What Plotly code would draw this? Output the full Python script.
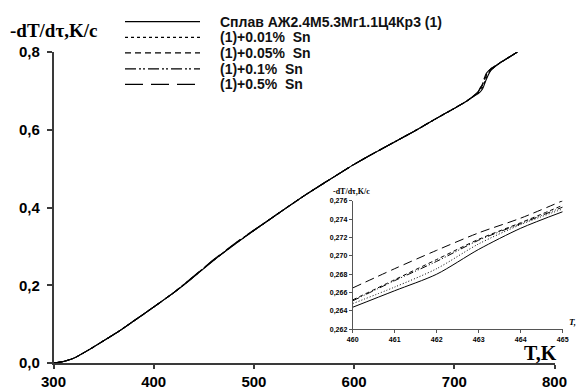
import plotly.graph_objects as go

# ---------------- data ----------------
series_names = [
    "Сплав АЖ2.4М5.3Мг1.1Ц4Кр3 (1)",
    "(1)+0.01%  Sn",
    "(1)+0.05%  Sn",
    "(1)+0.1%  Sn",
    "(1)+0.5%  Sn",
]

T_main = [300, 310, 320, 336, 350, 366, 380, 400, 420, 436, 460, 486, 500, 520,
          550, 572, 600, 632, 660, 680, 700, 712, 720, 724, 728, 732, 736, 745, 755, 763]

v_alloy = [0.000, 0.004, 0.012, 0.035, 0.057, 0.083, 0.108, 0.144, 0.181, 0.213, 0.2644, 0.315, 0.341, 0.377,
           0.430, 0.466, 0.511, 0.557, 0.596, 0.626, 0.655, 0.673, 0.687, 0.693, 0.704, 0.730, 0.751, 0.771, 0.787, 0.800]
v_sn001 = [0.000, 0.004, 0.012, 0.035, 0.057, 0.083, 0.108, 0.144, 0.181, 0.214, 0.2648, 0.315, 0.341, 0.377,
           0.430, 0.466, 0.511, 0.557, 0.596, 0.626, 0.655, 0.673, 0.688, 0.695, 0.708, 0.734, 0.752, 0.771, 0.787, 0.800]
v_sn005 = [0.000, 0.004, 0.012, 0.035, 0.057, 0.083, 0.108, 0.144, 0.181, 0.214, 0.2652, 0.316, 0.341, 0.377,
           0.430, 0.466, 0.511, 0.557, 0.596, 0.626, 0.655, 0.673, 0.688, 0.697, 0.714, 0.740, 0.754, 0.771, 0.787, 0.800]
v_sn01 = [0.000, 0.004, 0.012, 0.035, 0.057, 0.083, 0.108, 0.144, 0.181, 0.214, 0.2651, 0.316, 0.341, 0.377,
          0.430, 0.466, 0.511, 0.557, 0.596, 0.626, 0.655, 0.673, 0.688, 0.698, 0.717, 0.742, 0.755, 0.771, 0.787, 0.800]
v_sn05 = [0.000, 0.004, 0.012, 0.035, 0.057, 0.083, 0.108, 0.144, 0.181, 0.215, 0.2665, 0.317, 0.342, 0.377,
          0.430, 0.466, 0.511, 0.557, 0.596, 0.626, 0.655, 0.673, 0.689, 0.699, 0.720, 0.745, 0.756, 0.771, 0.787, 0.800]

T_inset = [460, 461, 462, 463, 464, 465]
i_alloy = [0.2644, 0.2662, 0.2680, 0.2707, 0.2730, 0.2748]
i_sn001 = [0.2648, 0.2666, 0.2686, 0.2713, 0.2734, 0.2751]
i_sn005 = [0.2652, 0.2674, 0.2696, 0.2718, 0.2736, 0.2755]
i_sn01 = [0.2651, 0.2673, 0.2694, 0.2717, 0.2735, 0.2753]
i_sn05 = [0.2665, 0.2686, 0.2706, 0.2725, 0.2741, 0.2760]

x_ticks = [300, 400, 500, 600, 700, 800]
y_ticks = [0.0, 0.2, 0.4, 0.6, 0.8]
y_ticktext = ["0,0", "0,2", "0,4", "0,6", "0,8"]
xi_ticks = [460, 461, 462, 463, 464, 465]
yi_ticks = [0.262, 0.264, 0.266, 0.268, 0.270, 0.272, 0.274, 0.276]
yi_ticktext = ["0,262", "0,264", "0,266", "0,268", "0,270", "0,272", "0,274", "0,276"]

# ---------------- styles ----------------
W, H = 577, 390
dashes = ["solid", "dot", "6px,4px", "11px,3px,2px,2px,2px,3px", "18px,8px"]
inset_dashes = ["solid", "1px,2px", "4px,3px", "7px,2px,1px,2px,1px,2px", "9px,5px"]
main_vals = [v_alloy, v_sn001, v_sn005, v_sn01, v_sn05]
inset_vals = [i_alloy, i_sn001, i_sn005, i_sn01, i_sn05]

fig = go.Figure()
for name, vals, d in zip(series_names, main_vals, dashes):
    fig.add_trace(go.Scatter(x=T_main, y=vals, mode="lines", name=name, showlegend=False,
                             line=dict(color="black", width=1.1, dash=d, shape="spline", smoothing=0.6),
                             xaxis="x", yaxis="y"))
for name, vals, d in zip(series_names, inset_vals, inset_dashes):
    fig.add_trace(go.Scatter(x=T_inset, y=vals, mode="lines", name=name, showlegend=False,
                             line=dict(color="black", width=1.0, dash=d, shape="spline", smoothing=0.8),
                             xaxis="x2", yaxis="y2"))

axcol = "#3a3a3a"
tickfont_main = dict(family="Liberation Sans, Arial", size=15, color="black", weight="bold")
tickfont_in = dict(family="Liberation Sans, Arial", size=7, color="black", weight="bold")

fig.update_layout(
    width=W, height=H,
    margin=dict(l=0, r=0, t=0, b=0),
    paper_bgcolor="white", plot_bgcolor="rgba(0,0,0,0)",
    showlegend=False,
    xaxis=dict(domain=[53.5 / W, 554.5 / W], range=[300, 800], tickvals=x_ticks,
               showline=True, linecolor=axcol, linewidth=1.5, ticks="outside", ticklen=4,
               tickcolor=axcol, tickwidth=1.5, showgrid=False, zeroline=False,
               tickfont=tickfont_main, anchor="y", automargin=False),
    yaxis=dict(domain=[1 - 363 / H, 1 - 52 / H], range=[0, 0.8], tickvals=y_ticks,
               ticktext=y_ticktext, showline=True, linecolor=axcol, linewidth=1.5,
               ticks="outside", ticklen=5, tickcolor=axcol, tickwidth=1.5, showgrid=False,
               zeroline=False, tickfont=tickfont_main, anchor="x", automargin=False,
               ticklabelstandoff=4),
    xaxis2=dict(domain=[352.7 / W, 562.7 / W], range=[460, 465], tickvals=xi_ticks,
                showline=True, linecolor="#555", linewidth=1, ticks="outside", ticklen=3,
                tickcolor="#555", showgrid=False, zeroline=False, tickfont=tickfont_in,
                anchor="y2", automargin=False),
    yaxis2=dict(domain=[1 - 329.3 / H, 1 - 200.7 / H], range=[0.262, 0.276], tickvals=yi_ticks,
                ticktext=yi_ticktext, showline=True, linecolor="#555", linewidth=1,
                ticks="outside", ticklen=3, tickcolor="#555", showgrid=False, zeroline=False,
                tickfont=tickfont_in, anchor="x2", automargin=False),
)

ann = []
# axis titles
ann.append(dict(text="-dT/dτ,K/c", x=8 / W, y=1 - 31 / H, xref="paper", yref="paper",
                xanchor="left", yanchor="middle", showarrow=False,
                font=dict(family="Liberation Serif, Times New Roman", size=19, color="black", weight="bold")))
ann.append(dict(text="T,K", x=559 / W, y=1 - 353 / H, xref="paper", yref="paper",
                xanchor="right", yanchor="middle", showarrow=False,
                font=dict(family="Liberation Serif, Times New Roman", size=20, color="black", weight="bold")))
ann.append(dict(text="-dT/dτ,K/c", x=331 / W, y=1 - 191 / H, xref="paper", yref="paper",
                xanchor="left", yanchor="middle", showarrow=False,
                font=dict(family="Liberation Serif, Times New Roman", size=8, color="black", weight="bold")))
ann.append(dict(text="<i>T, K</i>", x=567 / W, y=1 - 322 / H, xref="paper", yref="paper",
                xanchor="left", yanchor="middle", showarrow=False,
                font=dict(family="Liberation Serif, Times New Roman", size=9, color="black", weight="bold")))

# legend (sample lines + labels)
shapes = []
row_y = [21.7, 37.3, 52.9, 68.8, 84.3]
for name, d, ry in zip(series_names, dashes, row_y):
    shapes.append(dict(type="line", xref="paper", yref="paper", x0=125 / W, x1=200 / W,
                       y0=1 - ry / H, y1=1 - ry / H, line=dict(color="black", width=1.3, dash=d)))
    ann.append(dict(text=name, x=218 / W, y=1 - ry / H, xref="paper", yref="paper",
                    xanchor="left", yanchor="middle", showarrow=False,
                    font=dict(family="Liberation Sans, Arial", size=14, color="#111", weight="bold")))

fig.update_layout(annotations=ann, shapes=shapes)
fig.write_html("out.html")
